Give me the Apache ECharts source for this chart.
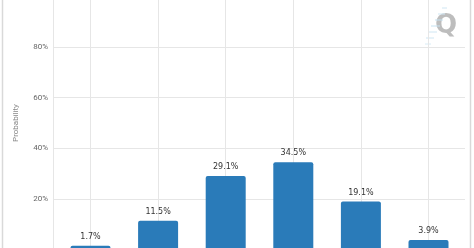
<!DOCTYPE html>
<html><head><meta charset="utf-8">
<script src="https://cdn.jsdelivr.net/npm/echarts@6/dist/echarts.min.js"></script>
<style>html,body{margin:0;padding:0;background:#fff}#c{width:474px;height:248px}</style>
</head><body><div id="c"></div>
<script>
var categories = ['0', '1', '2', '3', '4', '5'];
var probabilities = [1.7, 11.5, 29.1, 34.5, 19.1, 3.9];
var yTicks = [0, 20, 40, 60, 80, 100];

var chart = echarts.init(document.getElementById('c'), null, {renderer: 'canvas'});
var gridLine = '#e6e6e6';
var top_ = -4, bottom_ = -2;
chart.setOption({
  animation: false,
  grid: [
    {left: 53, right: 9, top: top_, bottom: bottom_, outerBoundsMode: 'none', containLabel: false},
    {left: 90.5, right: 45.5, top: top_, bottom: bottom_, outerBoundsMode: 'none', containLabel: false},
    {left: 56.7, right: 11.7, top: top_, bottom: bottom_, outerBoundsMode: 'none', containLabel: false}
  ],
  xAxis: [
    {gridIndex: 0, type: 'category', data: categories, show: false},
    {gridIndex: 1, type: 'category', data: categories, boundaryGap: false,
     axisLine: {show: false}, axisTick: {show: false}, axisLabel: {show: false},
     splitLine: {show: true, lineStyle: {color: gridLine, width: 1}}},
    {gridIndex: 2, type: 'category', data: categories, show: false}
  ],
  yAxis: [
    {gridIndex: 0, type: 'value', min: yTicks[0], max: yTicks[yTicks.length - 1], interval: 20,
     name: 'Probability', nameLocation: 'middle', nameGap: 33,
     nameTextStyle: {fontFamily: 'Roboto', fontSize: 8, color: '#888'},
     axisLine: {show: true, lineStyle: {color: gridLine}},
     axisTick: {show: false},
     axisLabel: {formatter: '{value}%', fontFamily: 'Roboto', fontSize: 8, color: '#666', margin: 5,
                 showMinLabel: false, showMaxLabel: false},
     splitLine: {show: true, lineStyle: {color: gridLine, width: 1}}},
    {gridIndex: 1, type: 'value', min: 0, max: 100, show: false, splitLine: {show: false}},
    {gridIndex: 2, type: 'value', min: 0, max: 100, show: false, splitLine: {show: false}}
  ],
  graphic: [
    {type: 'rect', shape: {x: 2.5, y: -10, width: 468, height: 270}, silent: true,
     style: {fill: 'none', stroke: '#d9d9d9', lineWidth: 1.5}},
    {type: 'text', left: 435, top: 13, silent: true,
     style: {text: 'Q', fontFamily: 'DejaVu Sans', fontWeight: 'bold', fontSize: 26, fill: '#bdbdbd'}},
    {type: 'group', silent: true, children: [
      {type: 'line', shape: {x1: 442, y1: 8, x2: 447, y2: 8}, style: {stroke: '#cfe6f3', lineWidth: 1}},
      {type: 'line', shape: {x1: 438, y1: 14, x2: 445, y2: 14}, style: {stroke: '#cfe6f3', lineWidth: 1}},
      {type: 'line', shape: {x1: 435, y1: 20, x2: 443, y2: 20}, style: {stroke: '#c6e2f1', lineWidth: 1}},
      {type: 'line', shape: {x1: 431, y1: 26, x2: 440, y2: 26}, style: {stroke: '#c6e2f1', lineWidth: 1}},
      {type: 'line', shape: {x1: 428, y1: 32, x2: 437, y2: 32}, style: {stroke: '#cfe6f3', lineWidth: 1}},
      {type: 'line', shape: {x1: 426, y1: 38, x2: 434, y2: 38}, style: {stroke: '#cfe6f3', lineWidth: 1}},
      {type: 'line', shape: {x1: 425, y1: 44, x2: 431, y2: 44}, style: {stroke: '#d8ecf6', lineWidth: 1}}
    ]}
  ],
  series: [{
    type: 'bar', xAxisIndex: 2, yAxisIndex: 2, data: probabilities, barWidth: 40,
    itemStyle: {color: '#2a7bb9', borderRadius: [2, 2, 0, 0]},
    label: {show: true, position: 'top', distance: 5, formatter: '{c}%',
            fontFamily: 'DejaVu Sans', fontSize: 8, color: '#333'}
  }]
});
</script></body></html>
